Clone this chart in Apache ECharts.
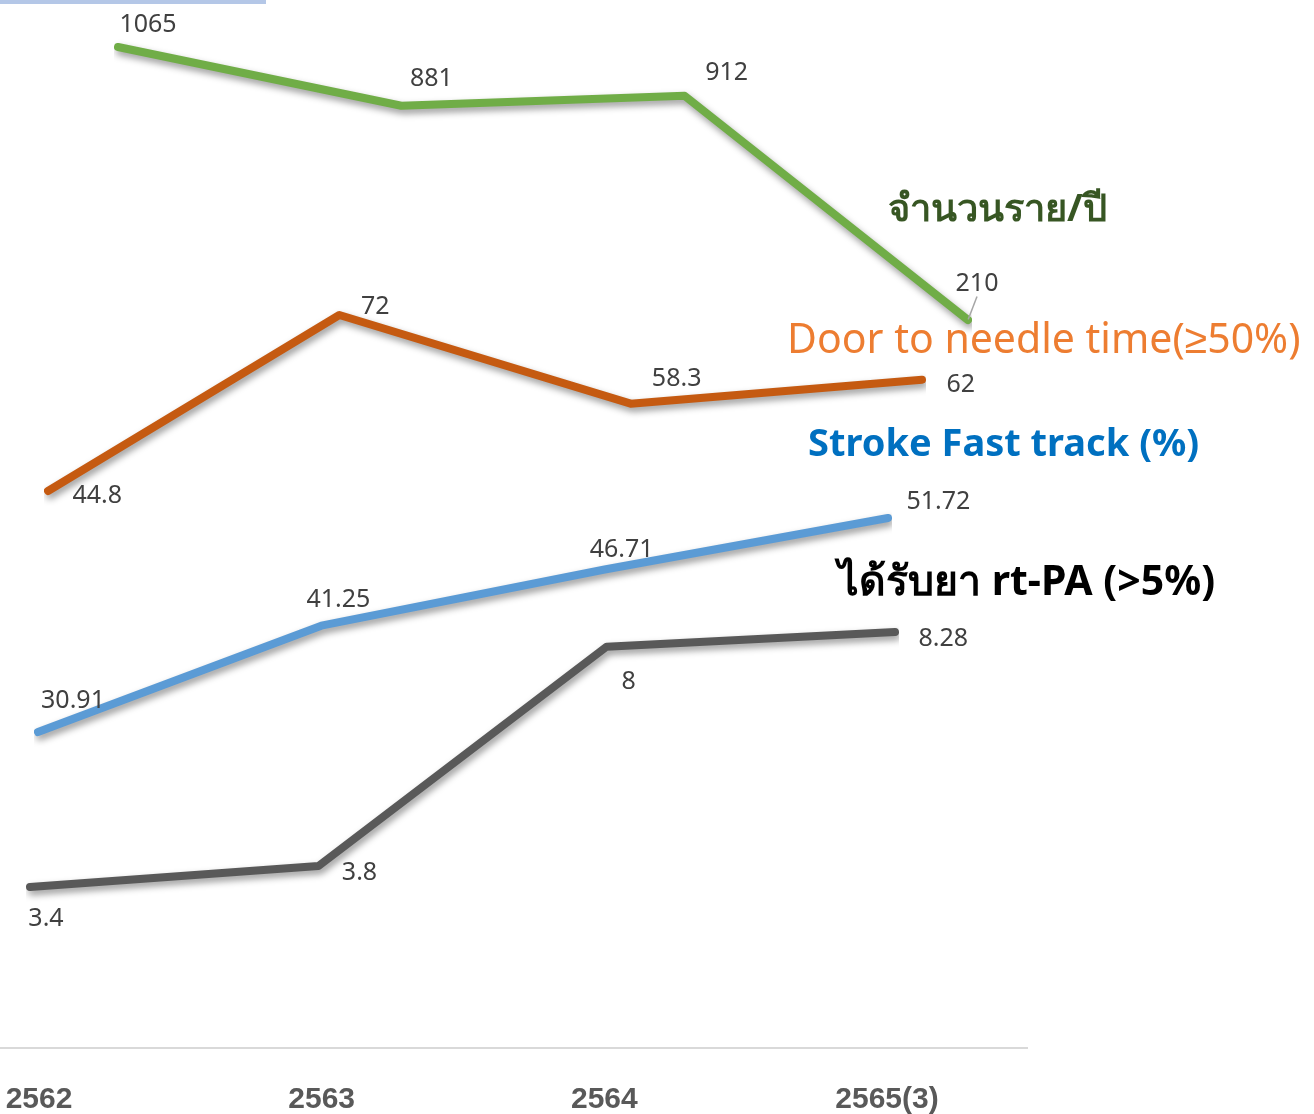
<!DOCTYPE html>
<html>
<head>
<meta charset="utf-8">
<script src="https://cdn.jsdelivr.net/npm/echarts@6/dist/echarts.min.js"></script>
<style>
  html, body { margin: 0; padding: 0; background: #fff; }
  #main { width: 1314px; height: 1114px; }
</style>
</head>
<body>
<div id="main"></div>
<script>
// ข้อมูล
var years = ['2562', '2563', '2564', '2565(3)'];
var patientsPerYear = [1065, 881, 912, 210];
var doorToNeedle = [44.8, 72, 58.3, 62];
var fastTrack = [30.91, 41.25, 46.71, 51.72];
var rtPA = [3.4, 3.8, 8, 8.28];

// ตำแหน่งป้ายค่า (position, offset) ของแต่ละจุด
var greenLabelPos = [['top', [30, -4]], ['top', [30, -9]], ['top', [42, -5]], ['top', [9, -18]]];
var orangeLabelPos = [['right', [19, 5]], ['top', [36, 10]], ['top', [46, -7]], ['right', [19, 5]]];
var blueLabelPos = [['top', [35, -13]], ['top', [17, -8]], ['top', [17, -2]], ['right', [13, -16]]];
var grayLabelPos = [['bottom', [16, 14]], ['right', [18, 7]], ['bottom', [22, 17]], ['right', [18, 7]]];

var labelFont = "'Noto Sans', 'DejaVu Sans', sans-serif";

function buildData(values, labelPos) {
    return values.map(function (v, i) {
        return {
            value: v,
            label: { position: labelPos[i][0], offset: labelPos[i][1] }
        };
    });
}

function lineSeries(idx, values, labelPos, color) {
    return {
        type: 'line',
        xAxisIndex: idx,
        yAxisIndex: idx,
        data: buildData(values, labelPos),
        symbol: 'circle',
        symbolSize: 1,
        showSymbol: true,
        itemStyle: { color: color },
        clip: false,
        lineStyle: {
            color: color,
            width: 8,
            cap: 'round',
            join: 'round',
            shadowColor: 'rgba(0,0,0,0.4)',
            shadowBlur: 7,
            shadowOffsetX: 2,
            shadowOffsetY: 4
        },
        label: {
            show: true,
            color: '#404040',
            fontSize: 25,
            fontFamily: labelFont
        }
    };
}

var myChart = echarts.init(document.getElementById('main'));

var grids = [
    { left: 118, width: 850, top: 47, height: 273 },
    { left: 48, width: 874, top: 315, height: 176 },
    { left: 38, width: 850, top: 518, height: 214 },
    { left: 30, width: 865, top: 632, height: 255 },
    { left: 39, width: 848, top: 1047, height: 1 }
];

var yRanges = [[210, 1065], [44.8, 72], [30.91, 51.72], [3.4, 8.28], [0, 1]];

// ชุดสีเขียว: ใช้ labelLayout เลื่อนป้าย และแสดงเส้นนำเฉพาะป้าย 210
var greenSeries = lineSeries(0, patientsPerYear, greenLabelPos, '#70ad47');
greenSeries.data = patientsPerYear.map(function (v, i) {
    return {
        value: v,
        label: { position: 'top' },
        labelLine: { show: i === 3 }
    };
});
greenSeries.labelLine = { show: true, lineStyle: { color: '#a6a6a6', width: 1.5 } };
greenSeries.labelLayout = function (p) {
    var off = greenLabelPos[p.dataIndex][1];
    return { dx: off[0], dy: off[1] };
};

option = {
    backgroundColor: '#fff',
    animation: false,
    grid: grids,
    xAxis: grids.map(function (g, i) {
        return {
            type: 'category',
            gridIndex: i,
            data: years,
            boundaryGap: false,
            show: i === 4,
            axisLine: { show: false },
            axisTick: { show: false },
            axisLabel: {
                margin: 37,
                color: '#595959',
                fontSize: 30,
                fontWeight: 'bold',
                fontFamily: "'Liberation Sans Narrow', 'Liberation Sans', sans-serif"
            }
        };
    }),
    yAxis: yRanges.map(function (r, i) {
        return { type: 'value', gridIndex: i, min: r[0], max: r[1], show: false };
    }),
    graphic: [
        { type: 'rect', shape: { x: 0, y: 0, width: 266, height: 4 }, style: { fill: '#b4c7e7' } },
        { type: 'line', shape: { x1: 0, y1: 1048, x2: 1028, y2: 1048 }, style: { stroke: '#d9d9d9', lineWidth: 2 } },
        { type: 'text', x: 888, y: 210, style: { text: 'จำนวนราย/ปี', fill: '#375623', font: "bold 38px 'Noto Sans', sans-serif", textVerticalAlign: 'middle' } },
        { type: 'text', x: 787, y: 341, style: { text: 'Door to needle time(≥50%)', fill: '#ed7d31', font: "41px 'Noto Sans', sans-serif", textVerticalAlign: 'middle' } },
        { type: 'text', x: 808, y: 445, style: { text: 'Stroke Fast track (%)', fill: '#0070c0', font: "bold 38px 'Noto Sans', sans-serif", textVerticalAlign: 'middle' } },
        { type: 'text', x: 838, y: 583, style: { text: 'ได้รับยา rt-PA (>5%)', fill: '#000000', font: "bold 41px 'Noto Sans', sans-serif", textVerticalAlign: 'middle' } }
    ],
    series: [
        greenSeries,
        lineSeries(1, doorToNeedle, orangeLabelPos, '#c55a11'),
        lineSeries(2, fastTrack, blueLabelPos, '#5b9bd5'),
        lineSeries(3, rtPA, grayLabelPos, '#595959')
    ]
};

myChart.setOption(option);
</script>
</body>
</html>
